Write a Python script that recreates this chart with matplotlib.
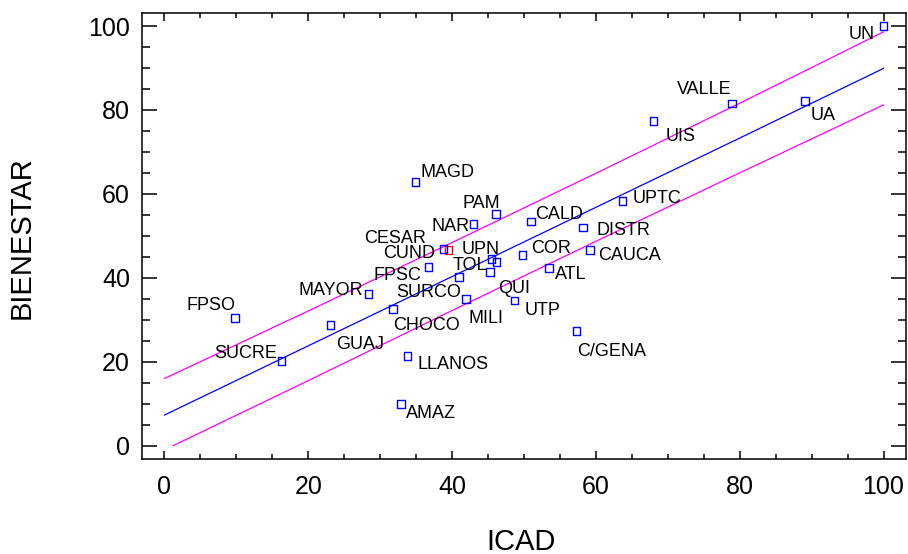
import matplotlib
matplotlib.use("Agg")
import matplotlib.pyplot as plt
from matplotlib import font_manager
from matplotlib.ticker import MultipleLocator

# ICAD vs BIENESTAR by university
names = ["UN", "VALLE", "UA", "UIS", "UPTC", "MAGD", "PAM", "CALD", "NAR", "DISTR",
         "CESAR", "CUND", "UPN", "TOL", "COR", "CAUCA", "FPSC", "ATL", "MAYOR", "SURCO",
         "QUI", "FPSO", "MILI", "UTP", "CHOCO", "GUAJ", "C/GENA", "SUCRE", "LLANOS", "AMAZ"]
icad = [100.0, 78.9, 89.1, 68.0, 63.7, 34.9, 46.1, 51.0, 43.0, 58.2,
        39.5, 38.8, 46.2, 45.5, 49.8, 59.2, 36.7, 53.5, 28.4, 41.0,
        45.3, 9.8, 41.9, 48.7, 31.8, 23.1, 57.3, 16.3, 33.8, 32.9]
bienestar = [100.0, 81.5, 82.2, 77.3, 58.3, 62.8, 55.2, 53.4, 52.8, 52.0,
             46.6, 46.9, 43.8, 44.5, 45.4, 46.6, 42.6, 42.3, 36.1, 40.2,
             41.4, 30.4, 35.0, 34.6, 32.5, 28.8, 27.3, 20.2, 21.4, 9.9]
highlight = ["CESAR"]

# fitted line and prediction limits
fit_x = [0, 20, 40, 60, 80, 100]
fit_y = [7.3, 23.8, 40.3, 56.8, 73.3, 89.9]
upper_y = [16.0, 32.1, 48.4, 64.9, 81.6, 98.6]
lower_x = [1.2, 20, 40, 60, 80, 100]
lower_y = [0.0, 15.5, 32.2, 48.7, 65.0, 81.2]

# label placement: (dx px, dy px to baseline, ha)
label_pos = {
    "UN": (-9, -13, "right"), "VALLE": (0, 10, "right"), "UA": (5, -19, "left"),
    "UIS": (12, -20, "left"), "UPTC": (10, -2, "left"), "MAGD": (5, 5, "left"),
    "PAM": (4, 6, "right"), "CALD": (4, 3, "left"), "NAR": (-4, -7, "right"),
    "DISTR": (14, -8, "left"), "CESAR": (-22, 7, "right"), "CUND": (-8, -9, "right"),
    "UPN": (3, 8, "right"), "TOL": (-5, -11, "right"), "COR": (9, 2, "left"),
    "CAUCA": (8, -10, "left"), "FPSC": (-7, -13, "right"), "ATL": (6, -11, "left"),
    "MAYOR": (-6, -1, "right"), "SURCO": (2, -20, "right"), "QUI": (8, -21, "left"),
    "FPSO": (1, 8, "right"), "MILI": (3, -24, "left"), "UTP": (10, -15, "left"),
    "CHOCO": (0, -21, "left"), "GUAJ": (6, -24, "left"), "C/GENA": (1, -25, "left"),
    "SUCRE": (-5, 3, "right"), "LLANOS": (10, -13, "left"), "AMAZ": (5, -14, "left"),
}

avail = {f.name for f in font_manager.fontManager.ttflist}
base_font = "Liberation Sans" if "Liberation Sans" in avail else "DejaVu Sans"
label_font = "Liberation Sans Narrow" if "Liberation Sans Narrow" in avail else base_font
plt.rcParams["font.family"] = [base_font, "DejaVu Sans"]

fig = plt.figure(figsize=(9.08, 5.54), dpi=100)
ax = fig.add_axes([142.4 / 908, 1 - 459 / 554, (905.8 - 142.4) / 908, 446 / 554])

ax.plot(fit_x, upper_y, color="#FF00FF", lw=0.9)
ax.plot(lower_x, lower_y, color="#FF00FF", lw=0.9)
ax.plot(fit_x, fit_y, color="#0000FF", lw=0.9)

colors = ["#FF0000" if n in highlight else "#0000FF" for n in names]
ax.scatter(icad, bienestar, marker="s", s=30, facecolors="none",
           edgecolors=colors, linewidths=1.0, zorder=3)

for n, x, y in zip(names, icad, bienestar):
    dx, dy, ha = label_pos[n]
    ax.annotate(n, (x, y), xytext=(dx, dy), textcoords="offset pixels",
                ha=ha, va="baseline", fontsize=13, family=label_font,
                color="black")

ax.set_xlim(-3.07, 103.1)
ax.set_ylim(-3.17, 103.1)
ax.xaxis.set_major_locator(MultipleLocator(20))
ax.xaxis.set_minor_locator(MultipleLocator(5))
ax.yaxis.set_major_locator(MultipleLocator(20))
ax.yaxis.set_minor_locator(MultipleLocator(5))

ax.tick_params(which="both", direction="in", top=True, right=True, width=1.1,
               labelsize=18)
ax.tick_params(axis="x", which="major", length=5.8, pad=11.5)
ax.tick_params(axis="x", which="minor", length=3.6)
ax.tick_params(axis="y", which="major", length=10.8, pad=9)
ax.tick_params(axis="y", which="minor", length=6)
for sp in ax.spines.values():
    sp.set_linewidth(1.1)

fig.text(521 / 908, 1 - 542 / 554, "ICAD", ha="center", va="center", fontsize=21)
fig.text(21.7 / 908, 1 - 238 / 554, "BIENESTAR", ha="center", va="center",
         rotation=90, fontsize=21)

fig.savefig("out.png", dpi=100)
